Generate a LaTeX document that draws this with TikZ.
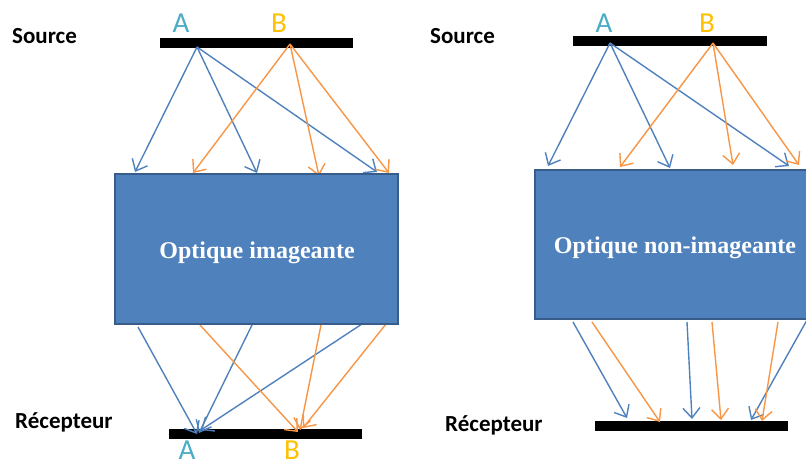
\documentclass[tikz,border=0pt]{standalone}
\usepackage{fontspec}
\setmainfont{Carlito}
\newfontfamily\boxfont{Liberation Serif}
\usetikzlibrary{arrows.meta}
\definecolor{rayblue}{HTML}{4F81BD}
\definecolor{rayorange}{HTML}{F79646}
\definecolor{boxfill}{HTML}{4F81BD}
\definecolor{boxline}{HTML}{385D8A}
\definecolor{labA}{HTML}{4BACC6}
\definecolor{labB}{HTML}{FFC000}
\begin{document}
\begin{tikzpicture}[x=1pt,y=-1pt,
  bar/.style={fill=black,draw=none,inner sep=0pt,minimum height=10pt},
  optbox/.style={fill=boxfill,draw=boxline,line width=2pt,inner sep=0pt},
  boxtext/.style={text=white,font=\boxfont\bfseries\fontsize{24}{26}\selectfont,anchor=base,inner sep=0pt},
  ray/.style={line width=1.4pt,-{Straight Barb[length=10pt,width=17pt,line width=1.4pt]}},
  blueray/.style={ray,draw=rayblue},
  orangeray/.style={ray,draw=rayorange},
  sidelab/.style={font=\bfseries\fontsize{23}{25}\selectfont,anchor=base west,inner sep=0pt},
  ptA/.style={text=labA,font=\fontsize{29}{31}\selectfont,anchor=base,inner sep=0pt},
  ptB/.style={text=labB,font=\fontsize{29}{31}\selectfont,anchor=base,inner sep=0pt}]
\useasboundingbox (0,0) rectangle (806,466);
\clip (0,0) rectangle (806,466);

% ---------------- left: imaging optics
\node[sidelab] (srcLabL) at (12,43) {Source};
\node[sidelab] (recLabL) at (15,428) {Récepteur};
\node[bar,minimum width=193pt] (srcL) at (256.5,42.5) {};
\node[bar,minimum width=193pt] (recL) at (265.5,433.5) {};
\node[ptA] (AtopL) at (181,32) {A};
\node[ptB] (BtopL) at (279,32) {B};
\node[ptA] (AbotL) at (187,459) {A};
\node[ptB] (BbotL) at (292,459) {B};

\coordinate (AL) at (197,47);
\coordinate (BL) at (290,44);
\coordinate (la1) at (135,172);
\coordinate (la2) at (257,173);
\coordinate (la3) at (377,172);
\coordinate (lb1) at (193,173);
\coordinate (lb2) at (319,176);
\coordinate (lb3) at (389,173);
\draw[blueray] (AL) -- (la1);
\draw[blueray] (AL) -- (la2);
\draw[blueray] (AL) -- (la3);
\draw[orangeray] (BL) -- (lb1);
\draw[orangeray] (BL) -- (lb2);
\draw[orangeray] (BL) -- (lb3);

\coordinate (lo1) at (138,327);
\coordinate (lo2) at (252,325);
\coordinate (lo3) at (365,322);
\coordinate (lo4) at (200,325);
\coordinate (lo5) at (321,325);
\coordinate (lo6) at (386,324);
\coordinate (lA1) at (197,434);
\coordinate (lA2) at (199,433);
\coordinate (lA3) at (201,430);
\coordinate (lB1) at (298,432);
\coordinate (lB2) at (300,430);
\coordinate (lB3) at (303,428);
\draw[blueray] (lo1) -- (lA1);
\draw[blueray] (lo2) -- (lA2);
\draw[blueray] (lo3) -- (lA3);
\draw[orangeray] (lo4) -- (lB1);
\draw[orangeray] (lo5) -- (lB2);
\draw[orangeray] (lo6) -- (lB3);

\node[optbox,minimum width=283pt,minimum height=150pt] (boxL) at (256.5,249) {};
\node[boxtext] (txtL) at (257,258) {Optique imageante};

% ---------------- right: non-imaging optics
\node[sidelab] (srcLabR) at (430,43) {Source};
\node[sidelab] (recLabR) at (445,431) {Récepteur};
\node[bar,minimum width=194pt] (srcR) at (670,41) {};
\node[bar,minimum width=193pt] (recR) at (691.5,426) {};
\node[ptA] (AtopR) at (604,32) {A};
\node[ptB] (BtopR) at (707,32) {B};

\coordinate (AR) at (610,43);
\coordinate (BR) at (713,43);
\coordinate (ra1) at (548,166);
\coordinate (ra2) at (670,168);
\coordinate (ra3) at (789,166);
\coordinate (rb1) at (620,167);
\coordinate (rb2) at (733,165);
\coordinate (rb3) at (799,165);
\draw[blueray] (AR) -- (ra1);
\draw[blueray] (AR) -- (ra2);
\draw[blueray] (AR) -- (ra3);
\draw[orangeray] (BR) -- (rb1);
\draw[orangeray] (BR) -- (rb2);
\draw[orangeray] (BR) -- (rb3);

\coordinate (ro1) at (573,322);
\coordinate (ro2) at (687,322);
\coordinate (ro3) at (807,320);
\coordinate (ro4) at (592,322);
\coordinate (ro5) at (712,322);
\coordinate (ro6) at (778,322);
\coordinate (rr1) at (627,418);
\coordinate (rr2) at (692,419);
\coordinate (rr3) at (751,420);
\coordinate (rr4) at (660,422);
\coordinate (rr5) at (721,420);
\coordinate (rr6) at (762,421);
\draw[blueray] (ro1) -- (rr1);
\draw[blueray] (ro2) -- (rr2);
\draw[blueray] (ro3) -- (rr3);
\draw[orangeray] (ro4) -- (rr4);
\draw[orangeray] (ro5) -- (rr5);
\draw[orangeray] (ro6) -- (rr6);

\node[optbox,minimum width=285pt,minimum height=149pt] (boxR) at (677.5,244.5) {};
\node[boxtext] (txtR) at (675,253) {Optique non-imageante};
\end{tikzpicture}
\end{document}
